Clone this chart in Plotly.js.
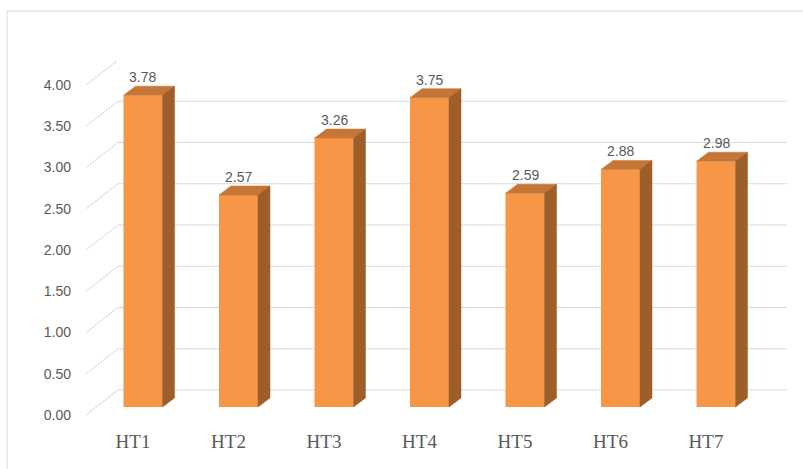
<!DOCTYPE html>
<html><head><meta charset="utf-8">
<script src="https://cdn.plot.ly/plotly-3.0.1.min.js"></script>
<style>html,body{margin:0;padding:0;background:#fff;}#chart{width:803px;height:469px;}</style>
</head><body><div id="chart"></div>
<script>
// ---- data ----
const categories = ['HT1','HT2','HT3','HT4','HT5','HT6','HT7'];
const values = [3.78, 2.57, 3.26, 3.75, 2.59, 2.88, 2.98];
const tickValues = [0, 0.5, 1, 1.5, 2, 2.5, 3, 3.5, 4];
const tickLabels = ['0.00','0.50','1.00','1.50','2.00','2.50','3.00','3.50','4.00'];

// ---- projection / style constants ----
const PXX = 95.5, PXY = 82.5;          // px per unit
const X0 = -0.492, X1 = 6.848;         // x range
const Y0 = -0.0242, Y1 = 4.291;        // y range
const wallDx = 32/PXX, wallDy = 25/PXY;
const gapDx = 10/PXX, gapDy = 8/PXY;
const barDx = 12/PXX, barDy = 9/PXY;
const halfW = 19.5/PXX;

const idx = categories.map((c,i)=>i);
const cx = idx.map(i => i + gapDx);

// grid lines (3D wall)
const shapes = tickValues.map(t => ({
  type:'path', xref:'x', yref:'y', layer:'below',
  path:`M ${X0},${t} L ${X0+wallDx},${t+wallDy} L ${X1},${t+wallDy}`,
  line:{color:'#D9D9D9', width:1}
}));
// chart border
shapes.push({type:'rect', xref:'paper', yref:'paper', layer:'below',
  x0:(7-86)/701, x1:(812-86)/701, y0:(417-480)/356, y1:1+(61-11)/356,
  line:{color:'#D9D9D9', width:1}});

// top & side faces
const topX=[], topY=[], sideX=[], sideY=[];
values.forEach((v,i)=>{
  const xl = cx[i]-halfW, xr = cx[i]+halfW, T = v+gapDy, B = gapDy;
  topX.push(xl, xr, xr+barDx, xl+barDx, xl, null);
  topY.push(T, T, T+barDy, T+barDy, T, null);
  sideX.push(xr, xr, xr+barDx, xr+barDx, xr, null);
  sideY.push(B, T, T+barDy, B+barDy, B, null);
});

const traces = [
  {type:'bar', x:cx, y:values, base:gapDy, width:2*halfW,
   marker:{color:'#F79646', line:{width:0}}, hoverinfo:'skip'},
  {type:'scatter', mode:'lines', x:topX, y:topY, fill:'toself',
   fillcolor:'#C57636', line:{color:'#C57636', width:0.5}, hoverinfo:'skip'},
  {type:'scatter', mode:'lines', x:sideX, y:sideY, fill:'toself',
   fillcolor:'#9E5E29', line:{color:'#9E5E29', width:0.5}, hoverinfo:'skip'}
];

const annotations = values.map((v,i)=>({
  x: cx[i], y: v+gapDy+barDy, xref:'x', yref:'y', text: v.toFixed(2),
  showarrow:false, yanchor:'bottom', yshift:-1,
  font:{family:'Liberation Sans, Arial, sans-serif', size:14, color:'#595959'}
}));

const layout = {
  width:803, height:469,
  margin:{l:86, r:16, t:61, b:52},
  paper_bgcolor:'#fff', plot_bgcolor:'rgba(0,0,0,0)',
  showlegend:false,
  xaxis:{range:[X0,X1], tickvals:idx, ticktext:categories, showgrid:false,
    zeroline:false, showline:false, ticks:'', ticklabelstandoff:11,
    tickfont:{family:'Liberation Serif, Times New Roman, serif', size:19, color:'#595959'}},
  yaxis:{range:[Y0,Y1], tickvals:tickValues, ticktext:tickLabels, showgrid:false,
    zeroline:false, showline:false, ticks:'', ticklabelstandoff:14,
    tickfont:{family:'Liberation Sans, Arial, sans-serif', size:14, color:'#595959'}},
  shapes:shapes, annotations:annotations
};

Plotly.newPlot('chart', traces, layout, {displayModeBar:false, staticPlot:true});
</script>
</body></html>
